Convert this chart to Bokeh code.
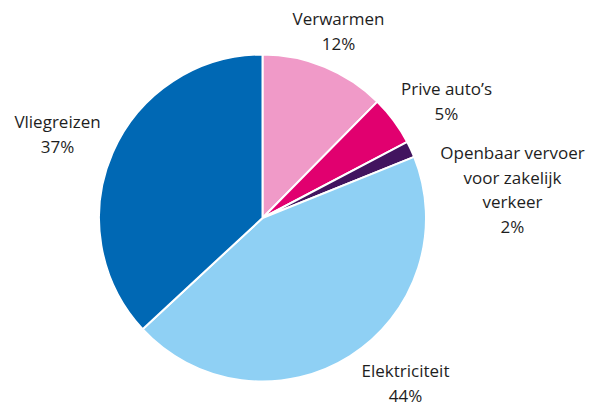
import math
from bokeh.plotting import figure
from bokeh.models import Range1d, ColumnDataSource
from bokeh.core.properties import value
from bokeh.embed import file_html
from bokeh.resources import INLINE

# ---- data ----
categories = ["Verwarmen", "Prive auto\u2019s", "Openbaar vervoer\nvoor zakelijk\nverkeer", "Elektriciteit", "Vliegreizen"]
shares = [12.4, 4.9, 1.6, 44.2, 36.9]
pct_labels = ["12%", "5%", "2%", "44%", "37%"]
colors = ["#F09AC8", "#E1006F", "#42145F", "#8FD0F4", "#0068B4"]

# ---- layout (pixels) ----
W, H = 590, 409
CX, CY, R = 262, 409 - 217.5, 163.5
label_x = [338, 446, 512, 405, 57]           # label centre x
label_top = [18, 88, 152, 370, 121]          # first line centre (from top)
LINE = 24.5
FONT = "Open Sans"
FSIZE = "17px"

p = figure(width=W, height=H, output_backend="svg", toolbar_location=None,
           x_range=Range1d(0, W), y_range=Range1d(0, H), min_border=0)
p.axis.visible = False
p.grid.visible = False
p.outline_line_color = None
p.background_fill_color = "white"

total = sum(shares)
starts, ends = [], []
a = math.pi / 2
for s in shares:
    starts.append(a)
    a -= s / total * 2 * math.pi
    ends.append(a)

src = ColumnDataSource(dict(start=starts, end=ends, color=colors))
p.wedge(x=CX, y=CY, radius=R, start_angle="start", end_angle="end", direction="clock",
        fill_color="color", line_color="white", line_width=2, source=src)

tx, ty, tt = [], [], []
for i, cat in enumerate(categories):
    lines = cat.split("\n") + [pct_labels[i]]
    for j, ln in enumerate(lines):
        tx.append(label_x[i])
        ty.append(H - (label_top[i] + j * LINE))
        tt.append(ln)

p.text(x=tx, y=ty, text=tt, text_align="center", text_baseline="middle",
       text_font=value(FONT), text_font_size=FSIZE, text_color="#1E1E1E")

open("out.html", "w").write(file_html(p, INLINE))
